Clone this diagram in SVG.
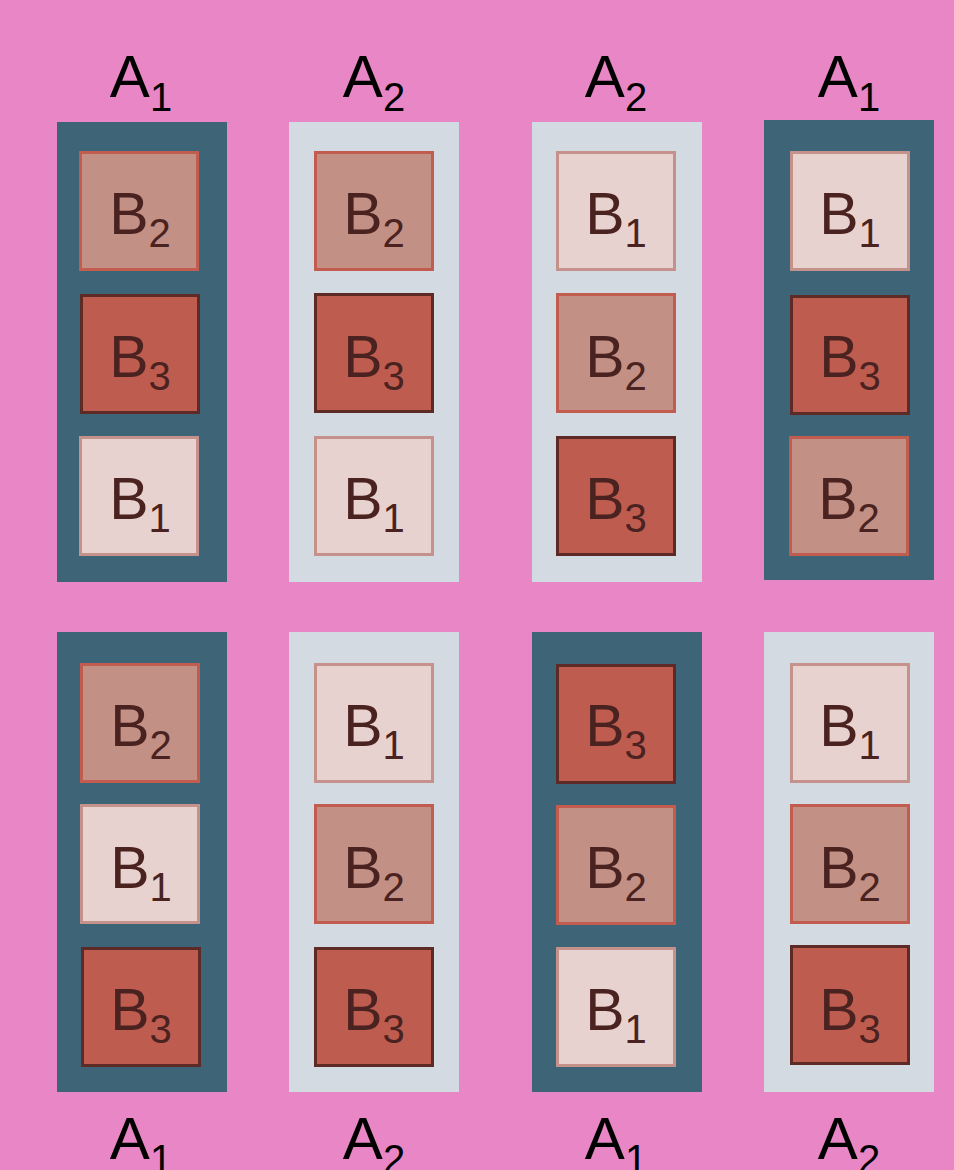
<svg xmlns="http://www.w3.org/2000/svg" width="954" height="1170" viewBox="0 0 954 1170">
<style>
.bg{fill:#E986C6}
.a1{fill:#3D6577}
.a2{fill:#D4DAE2}
.b1{fill:#E7D2CF;stroke:#C4928A;stroke-width:3}
.b2{fill:#C29085;stroke:#C25C4F;stroke-width:3}
.b3{fill:#BF5C50;stroke:#5E2A25;stroke-width:3}
.lab{font-family:"Liberation Sans",Arial,sans-serif;font-size:60px;fill:#000;text-anchor:middle}
.bl{font-family:"Liberation Sans",Arial,sans-serif;font-size:59px;fill:#4A2220;text-anchor:middle}
.sub{font-size:40px}
</style>
<rect class="bg" x="0" y="0" width="954" height="1170"/>
<g id="labels-top">
<text class="lab" x="141" y="97">A<tspan class="sub" dy="14">1</tspan></text>
<text class="lab" x="374" y="97">A<tspan class="sub" dy="14">2</tspan></text>
<text class="lab" x="616" y="97">A<tspan class="sub" dy="14">2</tspan></text>
<text class="lab" x="849" y="97">A<tspan class="sub" dy="14">1</tspan></text>
</g>
<g id="labels-bottom">
<text class="lab" x="141" y="1159">A<tspan class="sub" dy="14">1</tspan></text>
<text class="lab" x="374" y="1159">A<tspan class="sub" dy="14">2</tspan></text>
<text class="lab" x="616" y="1159">A<tspan class="sub" dy="14">1</tspan></text>
<text class="lab" x="849" y="1159">A<tspan class="sub" dy="14">2</tspan></text>
</g>
<g id="col-1-top">
<rect class="a1" x="57" y="122" width="170" height="460"/>
<rect class="b2" x="80.5" y="152.5" width="117" height="117"/><text class="bl" x="140" y="234">B<tspan class="sub" dy="13">2</tspan></text>
<rect class="b3" x="81.5" y="295.5" width="117" height="117"/><text class="bl" x="140" y="377">B<tspan class="sub" dy="13">3</tspan></text>
<rect class="b1" x="80.5" y="437.5" width="117" height="117"/><text class="bl" x="140" y="519">B<tspan class="sub" dy="13">1</tspan></text>
</g>
<g id="col-2-top">
<rect class="a2" x="289" y="122" width="170" height="460"/>
<rect class="b2" x="315.5" y="152.5" width="117" height="117"/><text class="bl" x="374" y="234">B<tspan class="sub" dy="13">2</tspan></text>
<rect class="b3" x="315.5" y="294.5" width="117" height="117"/><text class="bl" x="374" y="377">B<tspan class="sub" dy="13">3</tspan></text>
<rect class="b1" x="315.5" y="437.5" width="117" height="117"/><text class="bl" x="374" y="519">B<tspan class="sub" dy="13">1</tspan></text>
</g>
<g id="col-3-top">
<rect class="a2" x="532" y="122" width="170" height="460"/>
<rect class="b1" x="557.5" y="152.5" width="117" height="117"/><text class="bl" x="616" y="234">B<tspan class="sub" dy="13">1</tspan></text>
<rect class="b2" x="557.5" y="294.5" width="117" height="117"/><text class="bl" x="616" y="377">B<tspan class="sub" dy="13">2</tspan></text>
<rect class="b3" x="557.5" y="437.5" width="117" height="117"/><text class="bl" x="616" y="519">B<tspan class="sub" dy="13">3</tspan></text>
</g>
<g id="col-4-top">
<rect class="a1" x="764" y="120" width="170" height="460"/>
<rect class="b1" x="791.5" y="152.5" width="117" height="117"/><text class="bl" x="850" y="234">B<tspan class="sub" dy="13">1</tspan></text>
<rect class="b3" x="791.5" y="296.5" width="117" height="117"/><text class="bl" x="850" y="377">B<tspan class="sub" dy="13">3</tspan></text>
<rect class="b2" x="790.5" y="437.5" width="117" height="117"/><text class="bl" x="849" y="519">B<tspan class="sub" dy="13">2</tspan></text>
</g>
<g id="col-1-bottom">
<rect class="a1" x="57" y="632" width="170" height="460"/>
<rect class="b2" x="81.5" y="664.5" width="117" height="117"/><text class="bl" x="141" y="746">B<tspan class="sub" dy="13">2</tspan></text>
<rect class="b1" x="81.5" y="805.5" width="117" height="117"/><text class="bl" x="141" y="888">B<tspan class="sub" dy="13">1</tspan></text>
<rect class="b3" x="82.5" y="948.5" width="117" height="117"/><text class="bl" x="141" y="1030">B<tspan class="sub" dy="13">3</tspan></text>
</g>
<g id="col-2-bottom">
<rect class="a2" x="289" y="632" width="170" height="460"/>
<rect class="b1" x="315.5" y="664.5" width="117" height="117"/><text class="bl" x="374" y="746">B<tspan class="sub" dy="13">1</tspan></text>
<rect class="b2" x="315.5" y="805.5" width="117" height="117"/><text class="bl" x="374" y="888">B<tspan class="sub" dy="13">2</tspan></text>
<rect class="b3" x="315.5" y="948.5" width="117" height="117"/><text class="bl" x="374" y="1030">B<tspan class="sub" dy="13">3</tspan></text>
</g>
<g id="col-3-bottom">
<rect class="a1" x="532" y="632" width="170" height="460"/>
<rect class="b3" x="557.5" y="665.5" width="117" height="117"/><text class="bl" x="616" y="746">B<tspan class="sub" dy="13">3</tspan></text>
<rect class="b2" x="557.5" y="806.5" width="117" height="117"/><text class="bl" x="616" y="888">B<tspan class="sub" dy="13">2</tspan></text>
<rect class="b1" x="557.5" y="948.5" width="117" height="117"/><text class="bl" x="616" y="1030">B<tspan class="sub" dy="13">1</tspan></text>
</g>
<g id="col-4-bottom">
<rect class="a2" x="764" y="632" width="170" height="460"/>
<rect class="b1" x="791.5" y="664.5" width="117" height="117"/><text class="bl" x="850" y="746">B<tspan class="sub" dy="13">1</tspan></text>
<rect class="b2" x="791.5" y="805.5" width="117" height="117"/><text class="bl" x="850" y="888">B<tspan class="sub" dy="13">2</tspan></text>
<rect class="b3" x="791.5" y="946.5" width="117" height="117"/><text class="bl" x="850" y="1030">B<tspan class="sub" dy="13">3</tspan></text>
</g>
<g id="connectors"/>
</svg>
